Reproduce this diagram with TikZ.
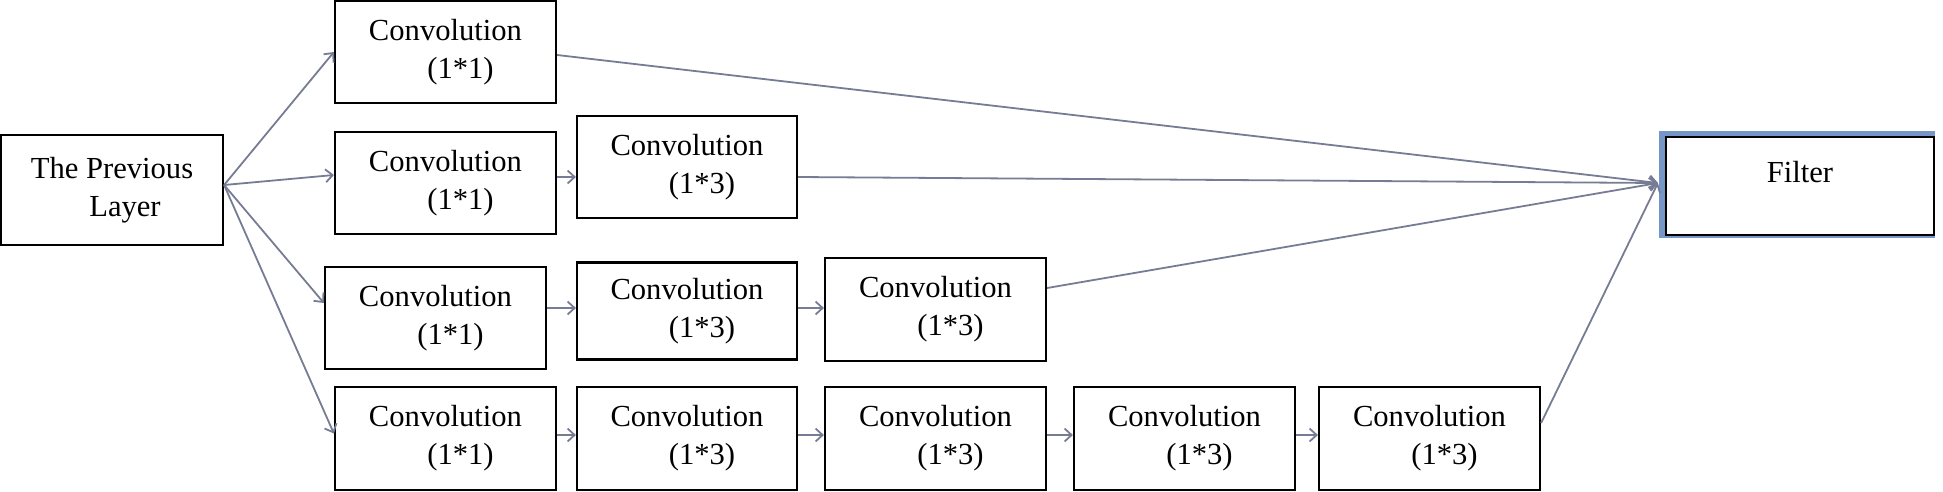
\documentclass[tikz,border=0pt]{standalone}
\usepackage{fontspec}
\setmainfont{Liberation Serif}
\usetikzlibrary{arrows.meta}
\definecolor{linegray}{RGB}{118,124,148}
\definecolor{frameblue}{RGB}{118,150,200}
\tikzset{
  box/.style={draw=black, line width=2.2pt, fill=white, inner sep=0pt,
    minimum width=221pt, minimum height=102pt, align=center,
    font=\fontsize{30.6}{38}\selectfont},
  conn/.style={draw=linegray, line width=1.8pt},
  arr/.style={conn, -{Straight Barb[length=7pt,width=13pt,line width=1.8pt]}}
}
\newcommand{\convtxt}[1]{Convolution\\\hspace*{30pt}(1*#1)}
\begin{document}
\begin{tikzpicture}[x=1pt,y=-1pt]
\useasboundingbox (0,0) rectangle (1943,491);
% nodes
\node[box, minimum width=222pt, minimum height=110pt] (prev) at (112,190) {The Previous\\\hspace*{26pt}Layer};
\node[box] (r1a) at (445.5,52) {\convtxt{1}};
\node[box] (r2a) at (445.5,183) {\convtxt{1}};
\node[box, minimum width=220pt] (r2b) at (687,167) {\convtxt{3}};
\node[box] (r3a) at (435.5,318) {\convtxt{1}};
\node[box, minimum width=220pt, minimum height=97pt] (r3b) at (687,311) {\convtxt{3}};
\node[box, minimum height=103pt] (r3c) at (935.5,309.5) {\convtxt{3}};
\node[box, minimum height=103pt] (r4a) at (445.5,438.5) {\convtxt{1}};
\node[box, minimum width=220pt, minimum height=103pt] (r4b) at (687,438.5) {\convtxt{3}};
\node[box, minimum height=103pt] (r4c) at (935.5,438.5) {\convtxt{3}};
\node[box, minimum height=103pt] (r4d) at (1184.5,438.5) {\convtxt{3}};
\node[box, minimum height=103pt] (r4e) at (1429.5,438.5) {\convtxt{3}};
% filter with blue frame
\fill[frameblue] (1659,131) rectangle (1935,238);
\node[box, minimum width=268pt, minimum height=98pt] (filter) at (1800,186) {Filter\\[-10pt]\mbox{}};
\coordinate (p) at ([yshift=5pt]prev.east);
\coordinate (f) at ([xshift=-7pt,yshift=3pt]filter.west);
% branches from previous layer
\draw[arr] (p) -- (r1a.west);
\draw[arr] (p) -- ([yshift=8pt]r2a.west);
\draw[arr] (p) -- ([yshift=15pt]r3a.west);
\draw[arr] (p) -- ([yshift=5pt]r4a.west);
% row chains
\draw[arr] ([yshift=6pt]r2a.east) -- ([yshift=-10pt]r2b.west);
\draw[arr] ([yshift=10pt]r3a.east) -- ([yshift=3pt]r3b.west);
\draw[arr] ([yshift=3pt]r3b.east) -- ([yshift=1.5pt]r3c.west);
\draw[arr] ([yshift=3.5pt]r4a.east) -- ([yshift=3.5pt]r4b.west);
\draw[arr] ([yshift=3.5pt]r4b.east) -- ([yshift=3.5pt]r4c.west);
\draw[arr] ([yshift=3.5pt]r4c.east) -- ([yshift=3.5pt]r4d.west);
\draw[arr] ([yshift=3.5pt]r4d.east) -- ([yshift=3.5pt]r4e.west);
% to filter
\draw[arr] ([yshift=-3pt]r1a.east) -- (f);
\draw[arr] ([yshift=-10pt]r2b.east) -- (f);
\draw[arr] ([yshift=21.5pt]r3c.east) -- (f);
\draw[arr] ([yshift=15.5pt]r4e.east) -- (f);
\end{tikzpicture}
\end{document}
